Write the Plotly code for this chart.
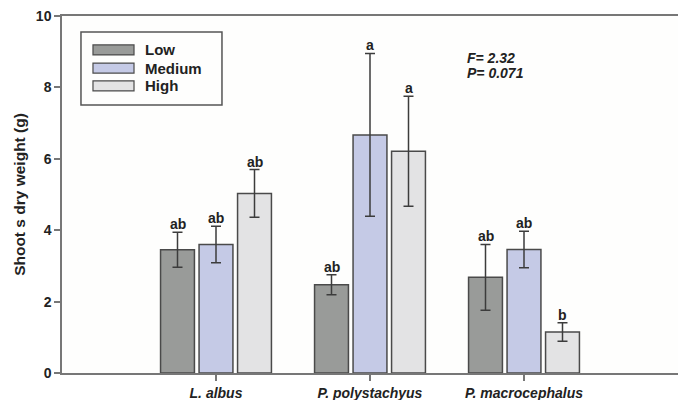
import plotly.graph_objects as go

# Shoot dry weight by species and treatment level
species = ["L. albus", "P. polystachyus", "P. macrocephalus"]
levels = ["Low", "Medium", "High"]
low_mean = [3.45, 2.47, 2.68]
low_err = [0.49, 0.28, 0.92]
medium_mean = [3.60, 6.67, 3.46]
medium_err = [0.51, 2.28, 0.51]
high_mean = [5.03, 6.21, 1.15]
high_err = [0.67, 1.54, 0.26]
low_letters = ["ab", "ab", "ab"]
medium_letters = ["ab", "a", "ab"]
high_letters = ["ab", "a", "b"]
y_ticks = [0, 2, 4, 6, 8, 10]

FONT = "Liberation Sans, Arial, sans-serif"
colors = {"Low": "#999b99", "Medium": "#c5cae6", "High": "#e3e3e4"}
edge = "#4a4a4a"

series = [
    ("Low", low_mean, low_err, low_letters),
    ("Medium", medium_mean, medium_err, medium_letters),
    ("High", high_mean, high_err, high_letters),
]

xpos = list(range(len(species)))
fig = go.Figure()
for name, mean, err, _ in series:
    fig.add_trace(go.Bar(
        x=xpos, y=mean, name=name,
        marker=dict(color=colors[name], line=dict(color=edge, width=1.5)),
        error_y=dict(type="data", array=err, visible=True,
                     color="#3c3c3c", thickness=1.5, width=5),
        showlegend=False,
    ))

# significance letters above each error bar
slot = 0.25
annotations = []
for k, (name, mean, err, letters) in enumerate(series):
    off = (k - 1) * slot
    for i in range(len(species)):
        annotations.append(dict(
            x=xpos[i] + off, y=mean[i] + err[i], xref="x", yref="y",
            text=f"<b>{letters[i]}</b>", showarrow=False,
            yanchor="bottom", yshift=-2,
            font=dict(family=FONT, size=14, color="#222"),
        ))

# statistics text
annotations.append(dict(x=0.654, y=0.882, xref="paper", yref="paper",
                        text="<b><i>F= 2.32</i></b>", showarrow=False,
                        xanchor="left", yanchor="middle",
                        font=dict(family=FONT, size=14, color="#222")))
annotations.append(dict(x=0.654, y=0.840, xref="paper", yref="paper",
                        text="<b><i>P= 0.071</i></b>", showarrow=False,
                        xanchor="left", yanchor="middle",
                        font=dict(family=FONT, size=14, color="#222")))

# boxed legend with wide swatches
shapes = [dict(type="rect", xref="paper", yref="paper",
               x0=0.0308, x1=0.2597, y0=0.751, y1=0.955,
               line=dict(color="#555", width=1.5), fillcolor="rgba(0,0,0,0)")]
legend_y = [0.905, 0.854, 0.804]
for name, yc in zip(levels, legend_y):
    shapes.append(dict(type="rect", xref="paper", yref="paper",
                       x0=0.0503, x1=0.1169, y0=yc - 0.014, y1=yc + 0.014,
                       line=dict(color=edge, width=1.2), fillcolor=colors[name]))
    annotations.append(dict(x=0.1315, y=yc, xref="paper", yref="paper",
                            text=f"<b>{name}</b>", showarrow=False,
                            xanchor="left", yanchor="middle",
                            font=dict(family=FONT, size=15, color="#222")))

fig.update_layout(
    width=678, height=400,
    margin=dict(l=62, r=0, t=16, b=27),
    paper_bgcolor="white", plot_bgcolor="#fefefd",
    barmode="group", bargap=0.25, bargroupgap=0.12,
    font=dict(family=FONT, color="#222"),
    annotations=annotations, shapes=shapes,
    xaxis=dict(range=[-1, 3], tickvals=xpos,
               ticktext=[f"<b><i>{s}</i></b>" for s in species],
               showline=True, linecolor="#777", linewidth=1.5, mirror=True,
               ticks="outside", ticklen=6, tickcolor="#777", tickwidth=1.5,
               showgrid=False, zeroline=False,
               tickfont=dict(family=FONT, size=14, color="#222")),
    yaxis=dict(range=[0, 10], tickvals=y_ticks,
               ticktext=[f"<b>{t}</b>" for t in y_ticks],
               showline=True, linecolor="#777", linewidth=1.5,
               ticks="outside", ticklen=6, tickcolor="#777", tickwidth=1.5,
               showgrid=False, zeroline=False,
               tickfont=dict(family=FONT, size=14, color="#222"),
               title=dict(text="<b>Shoot s dry weight (g)</b>", standoff=6,
                          font=dict(family=FONT, size=15.5, color="#222"))),
)

fig.write_html("out.html")
